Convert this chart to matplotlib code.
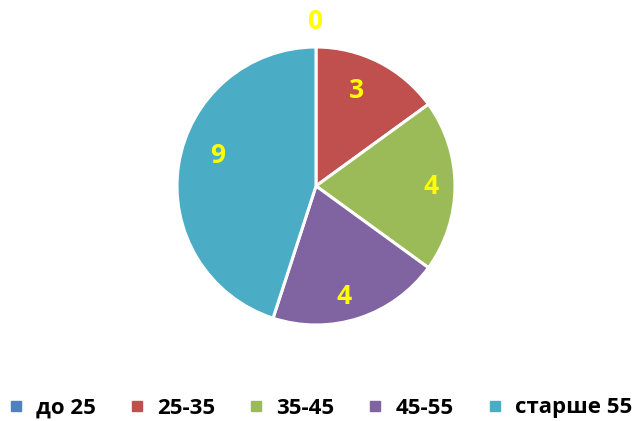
import matplotlib.pyplot as plt
import numpy as np
from matplotlib.lines import Line2D

# Данные
categories = ['до 25', '25-35', '35-45', '45-55', 'старше 55']
values = [0, 3, 4, 4, 9]
colors = ['#4F81BD', '#C0504D', '#9BBB59', '#8064A2', '#4BACC6']
label_dist = [1.18, 0.75, 0.83, 0.82, 0.74]
label_shift = [0, -4, 0, 4, 8]  # сдвиг подписи по углу, градусы

plt.rcParams['font.family'] = ['Open Sans', 'DejaVu Sans']

fig = plt.figure(figsize=(6.39, 4.21), dpi=100)
ax = fig.add_axes([177 / 639, 96 / 421, 278 / 639, 278 / 421])

wedges, _ = ax.pie(values, colors=colors, startangle=90, counterclock=False,
                   radius=1.0, wedgeprops=dict(edgecolor='white', linewidth=2.2))
ax.set_xlim(-1, 1)
ax.set_ylim(-1, 1)
ax.set_aspect('auto')

# Подписи значений
total = sum(values)
start = 0
for v, d, s in zip(values, label_dist, label_shift):
    mid = (start + v / 2) / total * 2 * np.pi + np.radians(s)
    x = d * np.sin(mid)
    y = d * np.cos(mid)
    ax.text(x, y, str(v), color='#FFFF00', fontsize=19, fontweight='bold',
            ha='center', va='center')
    start += v

# Легенда
handles = [Line2D([0], [0], marker='s', linestyle='', markersize=7,
                  markerfacecolor=c, markeredgecolor=c) for c in colors]
fig.legend(handles, categories, loc='center', bbox_to_anchor=(0.5, 13 / 421),
           ncol=5, frameon=False, handlelength=0.8, handletextpad=0.5,
           columnspacing=1.45, prop=dict(size=16, weight='bold'))

fig.savefig('out.png', dpi=100)
